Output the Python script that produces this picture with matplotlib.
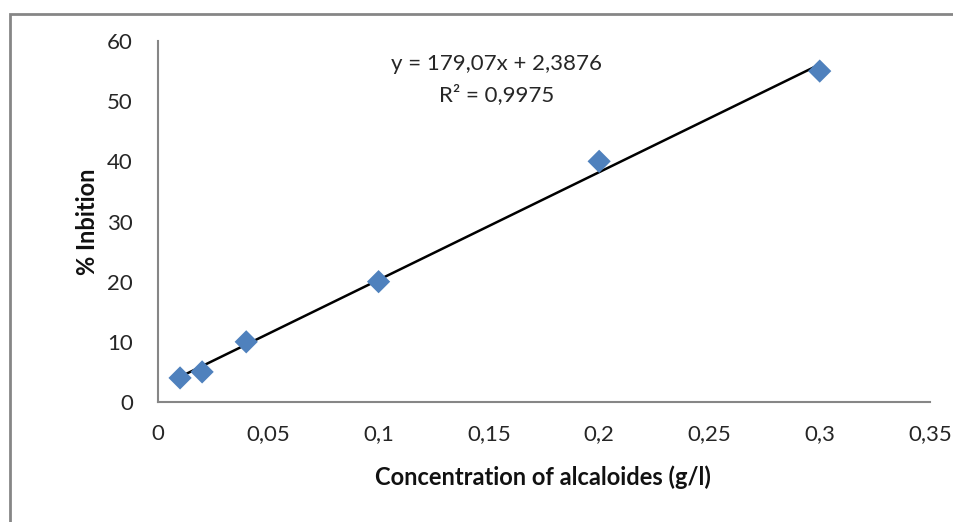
import matplotlib.pyplot as plt
import matplotlib.patches as mpatches
import numpy as np

plt.rcParams['font.family'] = ['Lato', 'DejaVu Sans']

conc = [0.01, 0.02, 0.04, 0.1, 0.2, 0.3]
inhib = [4, 5, 10, 20, 40, 55]
slope = 179.07
intercept = 2.3876
xticks = [0, 0.05, 0.1, 0.15, 0.2, 0.25, 0.3, 0.35]
xlabels = ['0', '0,05', '0,1', '0,15', '0,2', '0,25', '0,3', '0,35']
yticks = [0, 10, 20, 30, 40, 50, 60]

fig = plt.figure(figsize=(9.54, 5.22), dpi=100)
# outer chart border (cropped on right/bottom)
fig.patches.append(mpatches.Rectangle((10/954, -0.05), 1.1, 1 - 14/522 + 0.05,
                                      transform=fig.transFigure, fill=False,
                                      edgecolor='#868686', linewidth=2))

ax = fig.add_axes([158/954, 1 - 402/522, (930 - 158)/954, (402 - 41)/522])

xs = np.array([min(conc), max(conc)])
ax.plot(xs, slope*xs + intercept, color='black', linewidth=1.8, zorder=2)
ax.scatter(conc, inhib, marker='D', s=140, color='#4F81BD', edgecolors='none', zorder=3)

ax.set_xlim(0, 0.35)
ax.set_ylim(0, 60)
ax.set_xticks(xticks)
ax.set_xticklabels(xlabels)
ax.set_yticks(yticks)
ax.tick_params(length=0, labelsize=16, colors='#262626')
ax.tick_params(axis='x', pad=16)
ax.tick_params(axis='y', pad=18)

for s in ['top', 'right']:
    ax.spines[s].set_visible(False)
for s in ['left', 'bottom']:
    ax.spines[s].set_color('#868686')
    ax.spines[s].set_linewidth(1.5)

ax.text(0.438, 0.893, 'y = 179,07x + 2,3876\nR² = 0,9975', transform=ax.transAxes,
        ha='center', va='center', fontsize=16, color='#262626', linespacing=1.6)

fig.text(543/954, 1 - 477/522, 'Concentration of alcaloides (g/l)', ha='center', va='center',
         fontsize=17, fontweight='bold', color='#111111')
fig.text(88/954, 1 - 222/522, '% Inbition', ha='center', va='center', rotation=90,
         fontsize=17, fontweight='bold', color='#111111')

fig.savefig('out.png', dpi=100)
